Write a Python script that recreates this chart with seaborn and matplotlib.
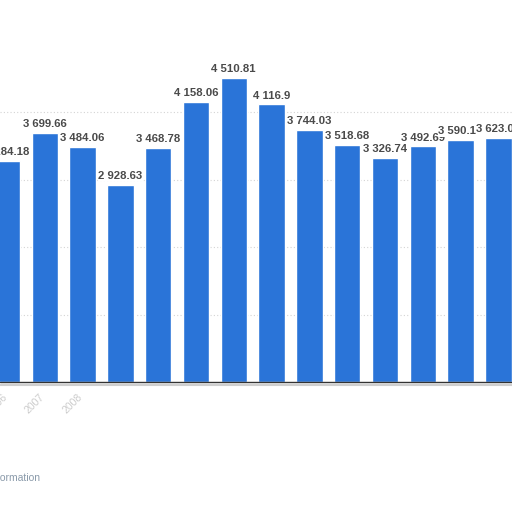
import matplotlib
matplotlib.use("Agg")
import pandas as pd
import matplotlib.pyplot as plt
import seaborn as sns

# values (one bar per year, 2006-2019)
years = ["2006", "2007", "2008", "2009", "2010", "2011", "2012",
         "2013", "2014", "2015", "2016", "2017", "2018", "2019"]
values = [3284.18, 3699.66, 3484.06, 2928.63, 3468.78, 4158.06, 4510.81,
          4116.90, 3744.03, 3518.68, 3326.74, 3492.69, 3590.13, 3623.05]
# only the first few year labels survive in the reference crop
visible_years = ["2006", "2007", "2008"]
grid_ticks = [1000, 2000, 3000, 4000]


def fmt_value(v):
    s = f"{v:,.2f}".rstrip("0").rstrip(".")
    return s.replace(",", " ")


df = pd.DataFrame({"year": years, "value": values})

sns.set_theme(style="white")
plt.rcParams["font.family"] = ["Liberation Sans", "DejaVu Sans"]

fig = plt.figure(figsize=(5.12, 5.12), dpi=100)
ax = fig.add_axes([0, 0, 1, 1])

sns.barplot(data=df, x="year", y="value", color="#2a74d8", saturation=1,
            width=0.7, ax=ax, zorder=3)

# the chart is cropped: the axes run past the canvas edges
ax.set_xlim(-0.185, 13.36)
ax.set_ylim(-1928, 5665)

for y in grid_ticks:
    ax.axhline(y, color="#d4d4d4", lw=0.8, ls=(0, (1, 2)), zorder=1)
ax.axhline(0, color="#333333", lw=1.0, zorder=4)
ax.axhline(-50, color="#cfcfcf", lw=1.5, zorder=2)

for i, v in enumerate(values):
    ax.text(i, v + 55, fmt_value(v), ha="center", va="bottom",
            fontsize=8.2, fontweight="bold", color="#4a4a4a", zorder=5,
            bbox=dict(boxstyle="square,pad=0.05", fc="white", ec="none"))

for i, yr in enumerate(years):
    if yr in visible_years:
        ax.text(i + 0.05, -150, yr, rotation=45, ha="right", va="top",
                fontsize=7.5, color="#cccccc")

ax.text(0.87, -1420, "Additional Information", ha="right", va="center",
        fontsize=7.5, color="#8a9aaa")

for s in ax.spines.values():
    s.set_visible(False)
ax.set_xticks([])
ax.set_yticks([])
ax.set_xlabel("")
ax.set_ylabel("")

fig.savefig("out.png", dpi=100)
